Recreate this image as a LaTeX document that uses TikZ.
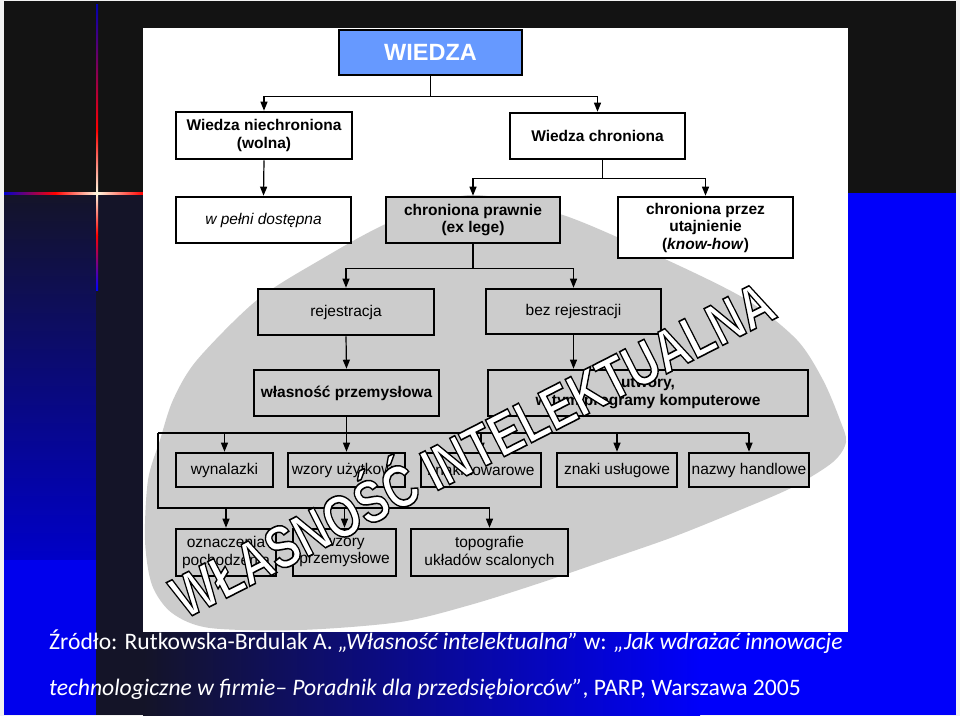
\documentclass[tikz,border=0pt]{standalone}
\usepackage{fontspec}
\setmainfont{Liberation Sans}
\newfontfamily\capfont{Carlito}
\usetikzlibrary{arrows.meta}
\definecolor{blobgray}{RGB}{204,204,204}
\definecolor{wiedzablue}{RGB}{102,153,255}
\definecolor{slidedark}{RGB}{19,19,19}
\definecolor{slidenavy}{RGB}{20,20,40}
\definecolor{slideblue}{RGB}{0,0,250}
\definecolor{flarewhite}{RGB}{255,250,225}

\begin{document}
\begin{tikzpicture}[x=1pt, y=-1pt,
    box/.style={draw, line width=2.6pt, align=center, inner sep=1pt, font=\fontsize{15.5}{17.5}\selectfont},
    boldbox/.style={box, font=\bfseries\fontsize{15.5}{17.5}\selectfont},
    conn/.style={line width=1.2pt},
    arr/.style={conn, -{Triangle[length=9pt,width=7pt]}}]
    \useasboundingbox (0,0) rectangle (960,716);
    \fill[white!90!gray] (0,0) rectangle (960,716);
    \fill[slidedark] (4,1) rectangle (956,193);
    \shade[top color=slidenavy, bottom color=slideblue!80!black] (4,193) rectangle (96,560);
    \fill[slideblue!95!black] (4,560) rectangle (96,715);
    \fill[slidenavy] (96,193) rectangle (143,715);
    \fill[slideblue] (848,193) rectangle (956,632);
    \shade[left color=slidenavy, right color=slideblue] (143,632) rectangle (700,715);
    \fill[slideblue] (700,632) rectangle (956,715);
    \shade[top color=blue!70!black, bottom color=red] (96,4) rectangle (98,130);
    \shade[top color=red, bottom color=flarewhite] (96,130) rectangle (98,193);
    \shade[top color=flarewhite, bottom color=red] (96,193) rectangle (98,235);
    \shade[top color=red, bottom color=blue] (96,235) rectangle (98,290);
    \shade[left color=blue!80!black, right color=red] (4,192) rectangle (55,194);
    \shade[left color=red, right color=flarewhite] (55,192) rectangle (97,194);
    \shade[left color=flarewhite, right color=red] (97,192) rectangle (143,194);

    \fill[white] (143,28) rectangle (848,632);
    \begin{scope}
        \clip (143,28) rectangle (848,632);
        \fill[blobgray] plot[smooth cycle] coordinates {(470,195) (563,215) (667,260) (747,300) (797,340) (823,380) (840,420) (846,442) (833,462) (793,487) (740,510) (673,537) (607,560) (540,583) (470,605) (400,622) (300,630) (210,628) (172,613) (152,585) (145,540) (148,480) (160,440) (173,400) (197,360) (257,300) (320,260) (390,222)};
    \end{scope}

    \node[box, fill=wiedzablue, text=white, minimum width=183pt, minimum height=45pt, font=\bfseries\fontsize{23.5}{26}\selectfont] (wiedza) at (430.5,52.5) {WIEDZA};
    \node[boldbox, fill=white, minimum width=176pt, minimum height=47pt] (niechr) at (264,135.5) {Wiedza niechroniona\\(wolna)};
    \node[boldbox, fill=white, minimum width=175pt, minimum height=46pt] (chron) at (597.5,136) {Wiedza chroniona};
    \node[box, fill=white, minimum width=175pt, minimum height=46pt, font=\itshape\fontsize{15.5}{17.5}\selectfont] (pelni) at (263.5,220) {w pełni dostępna};
    \node[boldbox, fill=blobgray, minimum width=174pt, minimum height=46pt] (prawnie) at (473,220) {chroniona prawnie\\(ex lege)};
    \node[boldbox, fill=white, minimum width=175pt, minimum height=61pt] (utajn) at (705.5,227.5) {chroniona przez\\utajnienie\\(\textit{know-how})};
    \node[box, fill=blobgray, minimum width=176pt, minimum height=46pt] (rejestr) at (346,312) {rejestracja};
    \node[box, fill=blobgray, minimum width=175pt, minimum height=45pt] (bezrej) at (573.5,311.5) {bez rejestracji};
    \node[boldbox, fill=blobgray, minimum width=185pt, minimum height=46pt] (przem) at (346.5,393) {własność przemysłowa};
    \node[boldbox, fill=blobgray, minimum width=320pt, minimum height=46pt] (utwory) at (648,393) {utwory,\\w tym programy komputerowe};
    \node[box, fill=blobgray, minimum width=97pt, minimum height=34pt] (wynal) at (224.5,470) {wynalazki};
    \node[box, fill=blobgray, minimum width=117pt, minimum height=34pt] (wzoryu) at (346.5,470) {wzory użytkowe};
    \node[box, fill=blobgray, minimum width=120pt, minimum height=34pt] (znakit) at (481,470) {znaki towarowe};
    \node[box, fill=blobgray, minimum width=120pt, minimum height=34pt] (znakiu) at (617,470) {znaki usługowe};
    \node[box, fill=blobgray, minimum width=120pt, minimum height=34pt] (nazwy) at (749,470) {nazwy handlowe};
    \node[box, fill=blobgray, minimum width=100pt, minimum height=47pt] (oznacz) at (226,552.5) {oznaczenia\\pochodzenia};
    \node[box, fill=blobgray, minimum width=103pt, minimum height=47pt] (wzoryp) at (344.5,552.5) {wzory\\przemysłowe};
    \node[box, fill=blobgray, minimum width=157pt, minimum height=47pt] (topo) at (489.5,552.5) {topografie\\układów scalonych};

    \draw[arr] (wiedza.south) -- ++(0,20) -| (niechr.north);
    \draw[arr] (wiedza.south) -- ++(0,20) -| (chron.north);
    \draw[arr] (niechr.south) -- (pelni.north);
    \draw[arr] ([xshift=5pt]chron.south) -- ++(0,18) -| (prawnie.north);
    \draw[arr] ([xshift=5pt]chron.south) -- ++(0,18) -| (utajn.north);
    \draw[arr] (prawnie.south) -- ++(0,24) -| (rejestr.north);
    \draw[arr] (prawnie.south) -- ++(0,24) -| (bezrej.north);
    \draw[arr] (rejestr.south) -- (przem.north);
    \draw[arr] (bezrej.south) -- (bezrej.south |- utwory.north);
    \draw[arr] (przem.south) -- (wzoryu.north);
    \coordinate (busa) at (158,433);
    \coordinate (busb) at (158,508);
    \draw[conn] (busa) -- (nazwy.north |- busa);
    \draw[conn] (busa) -- (busb) -- (topo.north |- busb);
    \foreach \b in {wynal, znakit, znakiu, nazwy}
        \draw[arr] (\b.north |- busa) -- (\b.north);
    \foreach \b in {oznacz, wzoryp, topo}
        \draw[arr] (\b.north |- busb) -- (\b.north);

    \node[anchor=base west, inner sep=0, text=white, font=\capfont\fontsize{23.6}{28}\selectfont] (zrodlo) at (49,649) {Źródło: Rutkowska-Brdulak A. \textit{„Własność intelektualna”} w: \textit{„Jak wdrażać innowacje}};
    \node[anchor=base west, inner sep=0, text=white, font=\capfont\fontsize{23.6}{28}\selectfont] (zrodlob) at (49,695) {\textit{technologiczne w firmie– Poradnik dla przedsiębiorców”}, PARP, Warszawa 2005};

    \node[rotate=27, anchor=base, inner sep=0, text=white, font=\bfseries\fontsize{46}{46}\selectfont] (znak) at (482,468) {\scalebox{1}[1.3]{\special{pdf:literal direct 0 G 1.2 w 2 Tr}WŁASNOŚĆ INTELEKTUALNA\special{pdf:literal direct 0 Tr}}};
\end{tikzpicture}
\end{document}
